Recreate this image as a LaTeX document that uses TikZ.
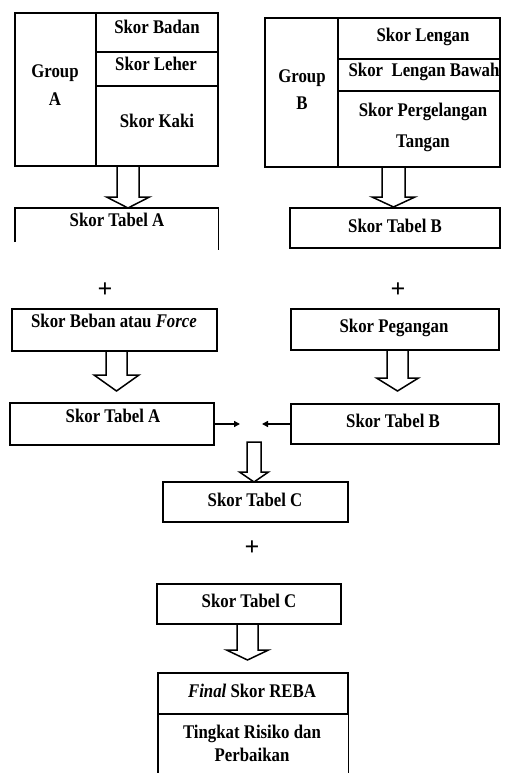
\documentclass[tikz,border=0pt]{standalone}
\usepackage{fontspec}
\setmainfont{Liberation Serif}
\usetikzlibrary{arrows.meta}
\newcommand\tx[1]{\scalebox{1}[1.15]{#1}}
\newcommand\bx[5]{\node[box, anchor=north west, minimum width={#4-#2}, minimum height={#5-#3}] (#1) at (#2,#3) {};}
\newcommand\ebx[5]{\node[anchor=north west, inner sep=0pt, minimum width={#4-#2}, minimum height={#5-#3}] (#1) at (#2,#3) {};}
\newcommand\harrow[5]{\draw[harr] (#1) ++(-#2,0) -- ++(0,#4) -- ++(#2-#3,0) -- ++(#3,#5) -- ++(#3,-#5) -- ++(#2-#3,0) -- ++(0,-#4) -- cycle;}
\begin{document}
\begin{tikzpicture}[x=1pt,y=-1pt,
  box/.style={draw, line width=1.5pt, inner sep=0pt, outer sep=0pt},
  lin/.style={line width=1.5pt},
  txt/.style={anchor=base, inner sep=0pt, font=\fontsize{16.8}{20}\selectfont\bfseries},
  plus/.style={anchor=base, inner sep=0pt, font=\fontsize{26}{26}\selectfont\bfseries},
  harr/.style={draw, line width=1.5pt, fill=white, line join=miter},
  sarr/.style={line width=1.4pt, -{Triangle[length=6pt,width=6pt]}}]
\useasboundingbox (0,0) rectangle (505,773);
% Group A
\bx{grpA}{15}{13}{96}{166}
\bx{badan}{96}{13}{218}{52}
\bx{leher}{96}{52}{218}{86}
\bx{kaki}{96}{86}{218}{166}
\node[txt] (tGA1) at (55,78) {\tx{Group}};
\node[txt] (tGA2) at (55,106) {\tx{A}};
\node[txt] (tBadan) at (157,34) {\tx{Skor Badan}};
\node[txt] (tLeher) at (156,71) {\tx{Skor Leher}};
\node[txt] (tKaki) at (157,128) {\tx{Skor Kaki}};
% Tabel A (top, open bottom)
\ebx{tabA1}{15}{208}{218}{250}
\draw[lin] (15,242) -- (tabA1.north west) -- (tabA1.north east) -- (tabA1.south east);
\node[txt] (tTA1) at (117,226) {\tx{Skor Tabel A}};
% Group B
\bx{grpB}{265}{18}{338}{167}
\bx{lengan}{338}{18}{500}{59}
\bx{bawah}{338}{59}{500}{91}
\bx{perg}{338}{91}{500}{167}
\node[txt] (tGB1) at (302,83) {\tx{Group}};
\node[txt] (tGB2) at (302,110) {\tx{B}};
\node[txt] (tLengan) at (423,42) {\tx{Skor Lengan}};
\node[txt] (tBawah) at (424,77) {\tx{Skor\ \ Lengan Bawah}};
\node[txt] (tPerg1) at (423,117) {\tx{Skor Pergelangan}};
\node[txt] (tPerg2) at (423,147) {\tx{Tangan}};
\bx{tabB1}{290}{208}{500}{248}
\node[txt] (tTB1) at (395,232) {\tx{Skor Tabel B}};
% pluses
\node[plus] (plusA) at (105,297) {+};
\node[plus] (plusB) at (398,297) {+};
% Beban / Pegangan
\bx{beban}{12}{309}{217}{351}
\node[txt] (tBeban) at (114,327) {\tx{Skor Beban atau \textit{Force}}};
\bx{peg}{291}{309}{499}{350}
\node[txt] (tPeg) at (394,332) {\tx{Skor Pegangan}};
% Tabel A / B second
\bx{tabA2}{10}{403}{214}{445}
\node[txt] (tTA2) at (113,422) {\tx{Skor Tabel A}};
\bx{tabB2}{291}{404}{499}{444}
\node[txt] (tTB2) at (393,427) {\tx{Skor Tabel B}};
\coordinate (midL) at (240,424);
\coordinate (midR) at (262,424);
\draw[sarr] (tabA2.east) -- (midL);
\draw[sarr] (tabB2.west) -- (midR);
% Tabel C
\bx{tabC1}{163}{482}{348}{522}
\node[txt] (tTC1) at (255,506) {\tx{Skor Tabel C}};
\node[plus] (plusC) at (252,555) {+};
\bx{tabC2}{157}{584}{341}{624}
\node[txt] (tTC2) at (249,607) {\tx{Skor Tabel C}};
% Final
\bx{final}{158}{673}{348}{714}
\node[txt] (tFinal) at (252,697) {\tx{\textit{Final} Skor REBA}};
\ebx{risk}{158}{714}{348}{773}
\draw[lin] (risk.south west) -- (risk.north west);
\draw[lin] (risk.south east) -- (risk.north east);
\node[txt] (tRisk1) at (252,738) {\tx{Tingkat Risiko dan}};
\node[txt] (tRisk2) at (252,761) {\tx{Perbaikan}};
% hollow arrows
\coordinate (h1) at (kaki.south -| 128,0);
\coordinate (h2) at (perg.south -| 393.5,0);
\coordinate (h3) at (beban.south -| 116.5,0);
\coordinate (h4) at (peg.south -| 397.5,0);
\coordinate (h5) at (254,442);
\coordinate (h6) at (tabC2.south -| 247.5,0);
\harrow{h1}{11}{21.5}{31}{11}
\harrow{h2}{11.5}{21.5}{30}{10}
\harrow{h3}{10.5}{22.5}{24}{16}
\harrow{h4}{10.5}{21}{28}{13}
\harrow{h5}{7}{14.5}{30}{10}
\harrow{h6}{10.5}{21}{26}{10}
\end{tikzpicture}
\end{document}
